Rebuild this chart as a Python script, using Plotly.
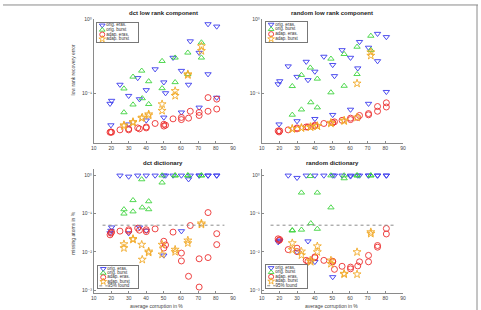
import plotly.graph_objects as go

W, H = 481, 310

# ---------------- data ----------------
x_ticks = [10, 20, 30, 40, 50, 60, 70, 80, 90]
y_tick_vals = [1, 0.1, 0.01, 0.001]
y_tick_text = ["10⁰", "10⁻¹", "10⁻²", "10⁻³"]

# corruption levels (average corruption in %)
eras_x = [19.3, 20.2, 19.8, 25.0, 30.0, 30.0, 35.2, 36.2, 40.1, 40.1, 45.2, 50.2, 51.2,
          50.2, 55.5, 60.3, 60.3, 65.4, 64.4, 70.5, 70.5, 75.6, 75.6, 80.6, 80.6]
burst_x = [27.3, 27.3, 32.5, 32.5, 37.5, 37.8, 41.5, 41.5, 49.2, 49.2, 56.7, 56.7,
           64.0, 64.0, 71.8, 71.8]

# dct low rank component
dct_lr_orig_eras = [0.072, 0.079, 0.037, 0.13, 0.092, 0.038, 0.16, 0.083, 0.11, 0.043, 0.21, 0.14, 0.10,
                    0.047, 0.30, 0.20, 0.055, 0.50, 0.13, 0.35, 0.064, 0.85, 0.18, 0.79, 0.087]
dct_lr_adap_eras = [0.0297, 0.0297, 0.030, 0.032, 0.032, 0.033, 0.034, 0.033, 0.035, 0.034, 0.039, 0.038, 0.037,
                    0.036, 0.045, 0.044, 0.047, 0.057, 0.046, 0.055, 0.050, 0.087, 0.057, 0.083, 0.061]
dct_lr_orig_burst = [0.115, 0.055, 0.166, 0.070, 0.20, 0.085, 0.144, 0.071, 0.27, 0.116, 0.30, 0.14,
                     0.35, 0.18, 0.48, 0.30]
dct_lr_adap_burst = [0.037, 0.036, 0.041, 0.040, 0.046, 0.047, 0.052, 0.050, 0.071, 0.058, 0.107, 0.092,
                     0.18, 0.175, 0.43, 0.37]

# random low rank component
rnd_lr_orig_eras = [0.132, 0.145, 0.038, 0.23, 0.166, 0.042, 0.265, 0.15, 0.195, 0.045, 0.31, 0.24, 0.17,
                    0.051, 0.38, 0.30, 0.060, 0.49, 0.216, 0.41, 0.072, 0.63, 0.27, 0.57, 0.104]
rnd_lr_adap_eras = [0.031, 0.031, 0.030, 0.032, 0.033, 0.034, 0.035, 0.035, 0.036, 0.037, 0.039, 0.040, 0.041,
                    0.040, 0.043, 0.044, 0.046, 0.050, 0.047, 0.051, 0.053, 0.066, 0.057, 0.074, 0.065]
rnd_lr_orig_burst = [0.124, 0.051, 0.175, 0.060, 0.22, 0.075, 0.156, 0.064, 0.29, 0.102, 0.335, 0.125,
                     0.42, 0.18, 0.59, 0.38]
rnd_lr_adap_burst = [0.033, 0.033, 0.034, 0.034, 0.035, 0.035, 0.036, 0.036, 0.040, 0.039, 0.043, 0.042,
                     0.135, 0.047, 0.355, 0.32]

# dct dictionary
dct_d_orig_eras = [0.031, 0.044, 0.036, 1.0, 0.94, 0.031, 1.0, 0.044, 1.0, 0.036, 1.0, 1.0, 1.0,
                   0.0081, 1.0, 1.0, 0.035, 1.0, 0.80, 1.0, 1.0, 1.0, 1.0, 1.0, 1.0]
dct_d_adap_eras = [0.028, 0.033, 0.031, 0.035, 0.038, 0.035, 0.042, 0.037, 0.038, 0.034, 0.040, 0.019, 0.0152,
                   0.0126, 0.033, 0.0093, 0.0058, 0.049, 0.0023, 0.0066, 0.0012, 0.107, 0.0071, 0.030, 0.0155]
dct_d_orig_burst = [0.13, 0.10, 0.225, 0.114, 0.79, 0.145, 0.21, 0.13, 1.0, 0.65, 1.0, 1.0,
                    1.0, 1.0, 1.0, 1.0]
dct_d_adap_burst = [0.016, 0.0126, 0.022, 0.021, 0.0155, 0.0063, 0.0103, 0.0096, 0.0155, 0.0086, 0.0115, 0.0100,
                    0.020, 0.017, 0.056, 0.052]

# random dictionary
rnd_d_orig_eras = [0.018, 0.020, 0.019, 1.0, 0.87, 0.0099, 1.0, 0.019, 1.0, 0.0055, 1.0, 1.0, 1.0,
                   0.0022, 1.0, 1.0, 0.95, 1.0, 1.0, 1.0, 1.0, 1.0, 1.0, 1.0, 1.0]
rnd_d_adap_eras = [0.022, 0.021, 0.020, 0.0115, 0.0125, 0.0102, 0.0060, 0.0057, 0.0074, 0.0071, 0.0060, 0.0055,
                   0.0035, 0.0057, 0.0042, 0.0040, 0.0036, 0.0055, 0.0043, 0.0081, 0.0055, 0.0147, 0.0133,
                   0.041, 0.0295]
rnd_d_orig_burst = [0.036, 0.037, 0.355, 0.038, 0.96, 0.056, 0.355, 0.040, 1.0, 0.145, 1.0, 0.84,
                    1.0, 1.0, 1.0, 1.0]
rnd_d_adap_burst = [0.017, 0.0113, 0.0103, 0.0082, 0.0060, 0.0055, 0.0141, 0.0099, 0.0060, 0.0049, 0.0027,
                    0.0026, 0.0099, 0.0026, 0.033, 0.030]

series_names = ["orig. eras.", "orig. burst", "adap. eras.", "adap. burst"]
found_label = "95% found"
found_level = 0.05
found_span = [15, 85]

panel_titles = ["dct low rank component", "random low rank component", "dct dictionary", "random dictionary"]
y_labels = ["low rank recovery error", "missing atoms in %"]
x_label = "average corruption in %"

# ---------------- styles ----------------
FONT = "Liberation Sans, Arial, Helvetica, DejaVu Sans, sans-serif"
colors = ["#3a3aec", "#3ed43e", "#ec2f2f", "#f2aa2a"]
symbols = ["triangle-down-open", "triangle-up-open", "circle-open", "star-open"]
sizes = [5.5, 5.5, 6, 6]
AXC = "#8a8a8a"
TXC = "#444444"


def fx(p):
    return p / W


def fy(p):
    return 1 - p / H


panels = [
    dict(ys=[dct_lr_orig_eras, dct_lr_orig_burst, dct_lr_adap_eras, dct_lr_adap_burst],
         xd=(92, 233), yd=(16, 141), yr=[-1.667, 0.0], found=False, leg=(95, 137, 20, 39)),
    dict(ys=[rnd_lr_orig_eras, rnd_lr_orig_burst, rnd_lr_adap_eras, rnd_lr_adap_burst],
         xd=(262, 405), yd=(16, 141), yr=[-1.667, 0.0], found=False, leg=(266, 308, 19, 39)),
    dict(ys=[dct_d_orig_eras, dct_d_orig_burst, dct_d_adap_eras, dct_d_adap_burst],
         xd=(92, 233), yd=(168, 293), yr=[-3.08, 0.16], found=True, leg=(96, 137, 266, 288)),
    dict(ys=[rnd_d_orig_eras, rnd_d_orig_burst, rnd_d_adap_eras, rnd_d_adap_burst],
         xd=(262, 405), yd=(168, 293), yr=[-3.08, 0.16], found=True, leg=(266, 308, 265, 288)),
]

fig = go.Figure()
layout = dict(
    width=W, height=H, margin=dict(l=0, r=0, t=0, b=0),
    paper_bgcolor="white", plot_bgcolor="rgba(0,0,0,0)",
    showlegend=False, font=dict(family=FONT, size=5, color=TXC),
)
annotations = []

for i, p in enumerate(panels):
    k = i + 1
    xa = "x" if k == 1 else f"x{k}"
    ya = "y" if k == 1 else f"y{k}"
    xs_list = [eras_x, burst_x, eras_x, burst_x]
    for s in range(4):
        fig.add_trace(go.Scatter(
            x=xs_list[s], y=p["ys"][s], mode="markers", xaxis=xa, yaxis=ya,
            cliponaxis=False, name=series_names[s],
            marker=dict(symbol=symbols[s], size=sizes[s], color=colors[s],
                        line=dict(width=0.9, color=colors[s])),
        ))
    if p["found"]:
        fig.add_trace(go.Scatter(
            x=found_span, y=[found_level, found_level], mode="lines", xaxis=xa, yaxis=ya,
            line=dict(color="#8c8c8c", width=1, dash="dot"), name=found_label,
        ))
    layout[f"xaxis{'' if k == 1 else k}"] = dict(
        domain=[fx(p["xd"][0]), fx(p["xd"][1])], range=[10, 90], anchor=ya,
        tickvals=x_ticks, ticks="inside", ticklen=2, tickcolor=AXC, tickwidth=0.8,
        showline=True, linecolor=AXC, linewidth=1, showgrid=False, zeroline=False,
        tickfont=dict(size=5, color=TXC, family=FONT),
    )
    layout[f"yaxis{'' if k == 1 else k}"] = dict(
        domain=[fy(p["yd"][1]), fy(p["yd"][0])], type="log", range=p["yr"], anchor=xa,
        tickvals=y_tick_vals, ticktext=y_tick_text, ticks="inside", ticklen=2,
        tickcolor=AXC, tickwidth=0.8,
        showline=True, linecolor=AXC, linewidth=1, showgrid=False, zeroline=False,
        tickfont=dict(size=5, color=TXC, family=FONT),
    )
    annotations.append(dict(
        text="<b>" + panel_titles[i] + "</b>", xref="paper", yref="paper",
        x=fx((p["xd"][0] + p["xd"][1]) / 2), y=fy(p["yd"][0] - 6),
        showarrow=False, font=dict(size=6, color="#222222", family=FONT),
        xanchor="center", yanchor="middle",
    ))

    # legend inset
    lk = k + 4
    lxa, lya = f"x{lk}", f"y{lk}"
    x0, x1, y0, y1 = p["leg"]
    nrows = len(series_names) + (1 if p["found"] else 0)
    for s, nm in enumerate(series_names):
        fig.add_trace(go.Scatter(
            x=[5.5], y=[s], mode="markers+text", text=[nm], textposition="middle right",
            xaxis=lxa, yaxis=lya, cliponaxis=False, hoverinfo="skip",
            textfont=dict(size=4.5, color="#333333", family=FONT),
            marker=dict(symbol=symbols[s], size=5, color=colors[s],
                        line=dict(width=0.9, color=colors[s])),
        ))
    if p["found"]:
        fig.add_trace(go.Scatter(
            x=[1.5, 10], y=[nrows - 1, nrows - 1], mode="lines", xaxis=lxa, yaxis=lya,
            cliponaxis=False, hoverinfo="skip", line=dict(color="#8c8c8c", width=1, dash="dot"),
        ))
        fig.add_trace(go.Scatter(
            x=[10], y=[nrows - 1], mode="text", text=[found_label], textposition="middle right",
            xaxis=lxa, yaxis=lya, cliponaxis=False, hoverinfo="skip",
            textfont=dict(size=4.5, color="#333333", family=FONT),
        ))
    layout[f"xaxis{lk}"] = dict(
        domain=[fx(x0), fx(x1)], range=[0, x1 - x0], anchor=lya,
        showline=True, mirror=True, linecolor="#777777", linewidth=0.8,
        showticklabels=False, ticks="", showgrid=False, zeroline=False, fixedrange=True,
    )
    layout[f"yaxis{lk}"] = dict(
        domain=[fy(y1), fy(y0)], range=[nrows - 0.45, -0.55], anchor=lxa,
        showline=True, mirror=True, linecolor="#777777", linewidth=0.8,
        showticklabels=False, ticks="", showgrid=False, zeroline=False, fixedrange=True,
    )

# axis labels
for j, lab in enumerate(y_labels):
    annotations.append(dict(
        text=lab, xref="paper", yref="paper", x=fx(71), y=fy([68, 232][j]),
        textangle=-90, showarrow=False, font=dict(size=5, color=TXC, family=FONT),
        xanchor="center", yanchor="middle",
    ))
for cx in [155, 333]:
    annotations.append(dict(
        text=x_label, xref="paper", yref="paper", x=fx(cx), y=fy(306),
        showarrow=False, font=dict(size=5, color=TXC, family=FONT),
        xanchor="center", yanchor="middle",
    ))

layout["annotations"] = annotations
layout["shapes"] = [
    dict(type="line", xref="paper", yref="paper", x0=0, x1=1, y0=fy(2), y1=fy(2),
         line=dict(color="#8a8a8a", width=1)),
    dict(type="line", xref="paper", yref="paper", x0=fx(480), x1=fx(480), y0=0, y1=fy(2),
         line=dict(color="#8a8a8a", width=1)),
]
fig.update_layout(**layout)
fig.write_html("out.html")
